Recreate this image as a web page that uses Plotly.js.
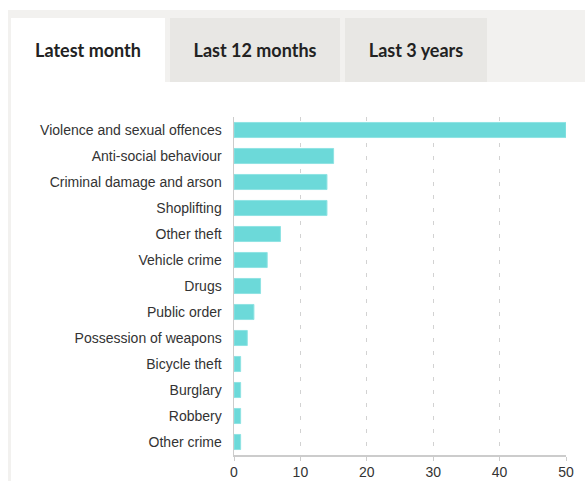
<!DOCTYPE html>
<html>
<head>
<meta charset="utf-8">
<script src="https://cdn.plot.ly/plotly-3.0.1.min.js"></script>
<style>
  html, body { margin:0; padding:0; background:#ffffff; width:585px; height:481px; overflow:hidden; }
  #band { position:absolute; left:8px; top:10px; width:577px; height:72px; background:#f2f1ef; }
  #strip { position:absolute; left:8px; top:10px; width:3px; height:471px; background:#f2f1ef; }
  .tab { position:absolute; top:18px; height:64px; font-family:Lato, "Open Sans", sans-serif; font-weight:700; font-size:18px; color:#222; display:flex; align-items:center; justify-content:center; box-sizing:border-box; }
  #t1 { left:11px; width:154px; background:#ffffff; height:64px; }
  #t2 { left:170px; width:170px; background:#e8e7e4; }
  #t3 { left:345px; width:142px; background:#e8e7e4; }
  #chart { position:absolute; left:0; top:0; width:585px; height:481px; }
</style>
</head>
<body>
<div id="band"></div>
<div id="strip"></div>
<div class="tab" id="t1">Latest month</div>
<div class="tab" id="t2">Last 12 months</div>
<div class="tab" id="t3">Last 3 years</div>
<div id="chart"></div>
<script>
const categories = [
  "Violence and sexual offences",
  "Anti-social behaviour",
  "Criminal damage and arson",
  "Shoplifting",
  "Other theft",
  "Vehicle crime",
  "Drugs",
  "Public order",
  "Possession of weapons",
  "Bicycle theft",
  "Burglary",
  "Robbery",
  "Other crime"
];
const counts = [50, 15, 14, 14, 7, 5, 4, 3, 2, 1, 1, 1, 1];
const xTicks = [0, 10, 20, 30, 40, 50];

const trace = {
  type: 'bar',
  orientation: 'h',
  x: counts,
  y: categories,
  marker: { color: '#6cd9d9', line: { color: '#8fe3e3', width: 1 } },
  hoverinfo: 'none'
};

const layout = {
  width: 585,
  height: 481,
  margin: { l: 234, r: 19, t: 117, b: 26, pad: 0 },
  paper_bgcolor: 'rgba(0,0,0,0)',
  plot_bgcolor: 'rgba(0,0,0,0)',
  bargap: 0.42,
  showlegend: false,
  font: { family: 'Liberation Sans, Arial, sans-serif', size: 14, color: '#333333' },
  xaxis: {
    range: [0, 50],
    tickvals: xTicks,
    ticktext: xTicks.map(String),
    showgrid: true,
    gridcolor: '#d2d2d2',
    griddash: '4px,9px',
    gridwidth: 1,
    zeroline: false,
    showline: true,
    linecolor: '#cccccc',
    linewidth: 1.5,
    ticks: 'outside',
    ticklen: 4,
    tickcolor: '#cccccc',
    tickfont: { size: 14, color: '#333333' },
    fixedrange: true
  },
  yaxis: {
    type: 'category',
    autorange: 'reversed',
    showgrid: false,
    zeroline: false,
    showline: true,
    linecolor: '#cccccc',
    linewidth: 1.5,
    ticks: '',
    ticklabelstandoff: 8,
    tickfont: { size: 14, color: '#333333' },
    fixedrange: true
  }
};

Plotly.newPlot('chart', [trace], layout, { displayModeBar: false, staticPlot: true });
</script>
</body>
</html>
